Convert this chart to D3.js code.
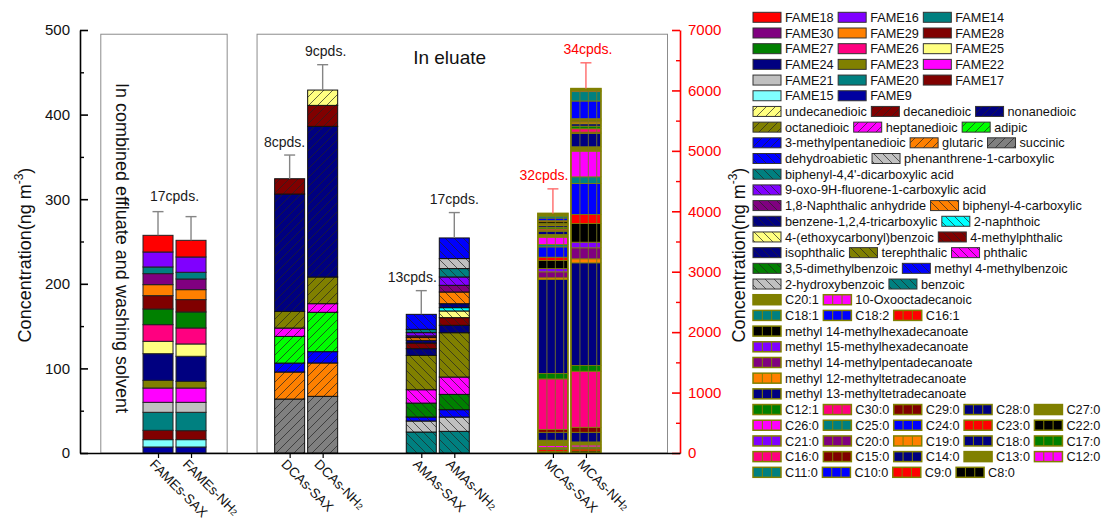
<!DOCTYPE html>
<html><head><meta charset="utf-8">
<script src="https://cdn.jsdelivr.net/npm/d3@7"></script>
<style>
body{margin:0;background:#fff}
svg{display:block}
text{font-family:"Liberation Sans",Arial,Helvetica,sans-serif}
</style>
</head><body>
<svg id="c" width="1101" height="521"></svg>
<script>
// ---------------- DATA ----------------
const groupLabels = ["FAMEs","DCAs","AMAs","MCAs"];
const methodLabels = ["SAX","NH2"];

// FAMEs (stack order bottom -> top), left axis
const fameNames  = ["FAME9","FAME15","FAME17","FAME20","FAME21","FAME22","FAME23","FAME24","FAME25","FAME26","FAME27","FAME28","FAME29","FAME30","FAME14","FAME16","FAME18"];
const fameColors = ["#0000A0","#80FFFF","#800000","#008080","#C0C0C0","#FF00FF","#808000","#000080","#FFFF80","#FF0080","#008000","#800000","#FF8000","#800080","#008080","#8000FF","#FF0000"];
const fameSAX    = [7.1,8.7,11.0,21.3,11.8,16.9,9.1,31.5,14.6,19.7,18.5,15.8,13.0,13.0,7.9,17.7,19.7];
const fameNH2    = [7.1,8.7,10.6,21.7,11.8,16.9,7.9,29.6,14.6,18.9,18.9,14.6,11.8,12.6,7.9,18.1,19.7];

// DCAs, left axis
const dcaNames  = ["succinic","glutaric","3-methylpentanedioic","adipic","heptanedioic","octanedioic","nonanedioic","decanedioic","undecanedioic"];
const dcaColors = ["#808080","#FF8000","#0000FF","#00FF00","#FF00FF","#808000","#000080","#800000","#FFFF80"];
const dcaSAX    = [63.8,31.9,10.6,31.5,9.9,19.7,138.7,18.1,0];
const dcaNH2    = [67.0,39.4,13.4,46.5,10.2,31.5,178.1,24.8,18.1];

// AMAs, left axis
const amaNames  = ["benzoic","2-hydroxybenzoic","methyl 4-methylbenzoic","3,5-dimethylbenzoic","phthalic","terephthalic","isophthalic","4-methylphthalic","4-(ethoxycarbonyl)benzoic","2-naphthoic","benzene-1,2,4-tricarboxylic","biphenyl-4-carboxylic","1,8-Naphthalic anhydride","9-oxo-9H-fluorene-1-carboxylic acid","biphenyl-4,4'-dicarboxylic acid","phenanthrene-1-carboxylic","dehydroabietic"];
const amaColors = ["#008080","#C0C0C0","#0000FF","#008000","#FF00FF","#808000","#000080","#800000","#FFFF80","#00FFFF","#000080","#FF8000","#800080","#8000FF","#008080","#C0C0C0","#0000FF"];
const amaSAX    = [24.8,13.0,4.7,16.5,15.8,40.6,7.9,6.7,0,0,3.2,3.2,2.0,3.9,3.9,0,17.7];
const amaNH2    = [25.6,16.9,8.7,18.1,20.5,52.4,8.7,9.1,7.9,3.9,4.7,13.8,7.9,9.9,9.9,11.8,24.4];

// MCAs, right axis
const mcaNames  = ["C8:0","C9:0","C10:0","C11:0","C12:0","C13:0","C14:0","C15:0","C16:0","C17:0","C18:0","C19:0","C20:0","C21:0","C22:0","C23:0","C24:0","C25:0","C26:0","C27:0","C28:0","C29:0","C30:0","C12:1","methyl 13-methyltetradecanoate","methyl 12-methyltetradecanoate","methyl 14-methylpentadecanoate","methyl 15-methylhexadecanoate","methyl 14-methylhexadecanoate","C16:1","C18:2","C18:1","10-Oxooctadecanoic","C20:1"];
const mcaColors = ["#000000","#FF0000","#0000FF","#008080","#FF00FF","#808000","#000080","#800000","#FF0080","#008000","#000080","#FF8000","#800080","#8000FF","#000000","#FF0000","#0000FF","#008080","#FF00FF","#808000","#000080","#800000","#FF0080","#008000","#000080","#FF8000","#800080","#8000FF","#000000","#FF0000","#0000FF","#008080","#FF00FF","#808000"];
const mcaSAX    = [28,28,17,17,33,88,132,44,839,88,1557,28,99,55,132,55,171,39,121,44,55,17,22,28,28,17,17,0,28,17,44,33,0,44];
const mcaNH2    = [33,33,17,17,33,50,160,83,927,94,1700,66,182,94,309,149,513,110,425,72,221,22,55,44,39,28,17,11,11,17,293,155,17,33];

// upper error bars (SAX, NH2)
const errFAME = [28,28];
const errDCA  = [28,30];
const errAMA  = [28,30];
const errMCA  = [406,427];

// compound count labels
const cpdsText  = ["17cpds.","8cpds.","9cpds.","13cpds.","17cpds.","32cpds.","34cpds."];
const cpdsGroup = [0,1,1,2,2,3,3];
const cpdsBar   = [-1,0,1,0,1,0,1];   // -1 = centred on group
const cpdsDx    = [0,-5,3,-9,0,-9,2];

// axis ticks
const leftTicks  = [0,100,200,300,400,500];
const rightTicks = [0,1000,2000,3000,4000,5000,6000,7000];

// legend rows
const legendRows = [
  ["FAME18","FAME16","FAME14"],["FAME30","FAME29","FAME28"],["FAME27","FAME26","FAME25"],
  ["FAME24","FAME23","FAME22"],["FAME21","FAME20","FAME17"],["FAME15","FAME9"],
  ["undecanedioic","decanedioic","nonanedioic"],["octanedioic","heptanedioic","adipic"],
  ["3-methylpentanedioic","glutaric","succinic"],
  ["dehydroabietic","phenanthrene-1-carboxylic"],["biphenyl-4,4'-dicarboxylic acid"],
  ["9-oxo-9H-fluorene-1-carboxylic acid"],["1,8-Naphthalic anhydride","biphenyl-4-carboxylic"],
  ["benzene-1,2,4-tricarboxylic","2-naphthoic"],["4-(ethoxycarbonyl)benzoic","4-methylphthalic"],
  ["isophthalic","terephthalic","phthalic"],["3,5-dimethylbenzoic","methyl 4-methylbenzoic"],
  ["2-hydroxybenzoic","benzoic"],
  ["C20:1","10-Oxooctadecanoic"],["C18:1","C18:2","C16:1"],
  ["methyl 14-methylhexadecanoate"],["methyl 15-methylhexadecanoate"],["methyl 14-methylpentadecanoate"],
  ["methyl 12-methyltetradecanoate"],["methyl 13-methyltetradecanoate"],
  ["C12:1","C30:0","C29:0","C28:0","C27:0"],["C26:0","C25:0","C24:0","C23:0","C22:0"],
  ["C21:0","C20:0","C19:0","C18:0","C17:0"],["C16:0","C15:0","C14:0","C13:0","C12:0"],
  ["C11:0","C10:0","C9:0","C8:0"]
];

// ---------------- CHART ----------------
const svg = d3.select("#c");
const defs = svg.append("defs");
const FONT = '"Liberation Sans",Arial,Helvetica,sans-serif';

const x  = d3.scaleLinear().domain([0.282,4.84]).range([80,680]);
const yL = d3.scaleLinear().domain([0,500]).range([453,30]);
const yR = d3.scaleLinear().domain([0,7000]).range([453,30]);
const barOff = [-0.1254, 0.1254];
const barW = 0.228;

const G = [
  {names:fameNames, colors:fameColors, vals:[fameSAX,fameNH2], err:errFAME, kind:"solid", y:yL},
  {names:dcaNames,  colors:dcaColors,  vals:[dcaSAX,dcaNH2],   err:errDCA,  kind:"fwd",   y:yL},
  {names:amaNames,  colors:amaColors,  vals:[amaSAX,amaNH2],   err:errAMA,  kind:"back",  y:yL},
  {names:mcaNames,  colors:mcaColors,  vals:[mcaSAX,mcaNH2],   err:errMCA,  kind:"vert",  y:yR}
];

const patCache = {};
function fillFor(kind,color){
  if(kind!=="fwd" && kind!=="back") return color;
  const id = kind + color.slice(1);
  if(!patCache[id]){
    patCache[id]=true;
    const s=9;
    const p = defs.append("pattern").attr("id",id).attr("patternUnits","userSpaceOnUse")
      .attr("width",s).attr("height",s);
    p.append("rect").attr("width",s).attr("height",s).attr("fill",color);
    const d = kind==="fwd"
      ? `M0,${s} L${s},0 M-3,3 L3,-3 M${s-3},${s+3} L${s+3},${s-3}`
      : `M0,0 L${s},${s} M-3,${s-3} L3,${s+3} M${s-3},-3 L${s+3},3`;
    p.append("path").attr("d",d).attr("stroke","#222").attr("stroke-width",0.7).attr("fill","none");
  }
  return `url(#${id})`;
}
const strokeFor = k => k==="vert" ? "#808000" : (k==="solid" ? "#222" : "#111");

// annotation boxes
const boxes = [[0.44,1.40],[1.627,4.745]];
svg.append("g").selectAll("rect").data(boxes).join("rect")
  .attr("x",d=>x(d[0])).attr("width",d=>x(d[1])-x(d[0]))
  .attr("y",yL(495)).attr("height",yL(0)-yL(495))
  .attr("fill","none").attr("stroke","#8c8c8c").attr("stroke-width",1);

// bars
const barsG = svg.append("g");
const capYs = [];
G.forEach((g,gi)=>{
  const keys = d3.range(g.names.length);
  const stacked = d3.stack().keys(keys).value((d,k)=>d[k])(g.vals);
  capYs[gi]=[];
  [0,1].forEach(mi=>{
    const cx = x(gi+1+barOff[mi]);
    const w = x(barW)-x(0);
    const total = d3.sum(g.vals[mi]);
    stacked.forEach((layer,k)=>{
      const [v0,v1] = layer[mi];
      if(v1-v0<=0) return;
      barsG.append("rect")
        .attr("x",cx-w/2).attr("width",w)
        .attr("y",g.y(v1)).attr("height",g.y(v0)-g.y(v1))
        .attr("fill",fillFor(g.kind,g.colors[k]))
        .attr("stroke",strokeFor(g.kind))
        .attr("stroke-width",g.kind==="vert"?0.8:1);
    });
    if(g.kind==="vert"){
      [0.3,0.58,0.86].forEach(f=>{
        barsG.append("line").attr("x1",cx-w/2+f*w).attr("x2",cx-w/2+f*w)
          .attr("y1",g.y(total)).attr("y2",g.y(0))
          .attr("stroke","#7a7a20").attr("stroke-width",1).attr("opacity",0.85);
      });
      barsG.append("rect").attr("x",cx-w/2).attr("width",w)
        .attr("y",g.y(total)).attr("height",g.y(0)-g.y(total))
        .attr("fill","none").attr("stroke","#808000").attr("stroke-width",1.6);
    }
    // error bar
    const ec = g.kind==="vert" ? "#FF6a6a" : "#858585";
    const yTop = g.y(total+g.err[mi]);
    capYs[gi][mi]=yTop;
    barsG.append("line").attr("x1",cx).attr("x2",cx).attr("y1",g.y(total)).attr("y2",yTop)
      .attr("stroke",ec).attr("stroke-width",1.4);
    barsG.append("line").attr("x1",cx-5.5).attr("x2",cx+5.5).attr("y1",yTop).attr("y2",yTop)
      .attr("stroke",ec).attr("stroke-width",1.4);
  });
});

// cpds labels
cpdsText.forEach((t,i)=>{
  const gi = cpdsGroup[i], b = cpdsBar[i];
  let cx, yb;
  if(b<0){ cx = x(gi+1); yb = Math.min(capYs[gi][0],capYs[gi][1]) - 11; }
  else { cx = x(gi+1+barOff[b]); yb = capYs[gi][b] - 8.5; }
  svg.append("text").attr("x",cx+cpdsDx[i]).attr("y",yb).attr("text-anchor","middle")
    .attr("font-size",14).attr("fill", gi===3 ? "#FF0000" : "#1a1a1a").text(t);
});

// axes
const axL = svg.append("g").attr("transform","translate(80,0)")
  .call(d3.axisLeft(yL).tickValues(leftTicks).tickSize(-8).tickSizeOuter(0).tickPadding(10).tickFormat(d3.format("d")));
axL.attr("font-family",FONT).attr("font-size",15);
axL.select(".domain").attr("stroke-width",1.6);
axL.selectAll(".tick line").attr("stroke-width",1.6);
axL.selectAll(".tick text").attr("fill","#111");
const axLm = svg.append("g").attr("transform","translate(80,0)")
  .call(d3.axisLeft(yL).tickValues(d3.range(50,500,100)).tickSize(-4).tickFormat(""));
axLm.select(".domain").remove();
axLm.selectAll(".tick line").attr("stroke-width",1.4);

const axR = svg.append("g").attr("transform","translate(680,0)").attr("color","#FF0000")
  .call(d3.axisRight(yR).tickValues(rightTicks).tickSize(-8).tickSizeOuter(0).tickPadding(8).tickFormat(d3.format("d")));
axR.attr("font-family",FONT).attr("font-size",15);
axR.select(".domain").attr("stroke-width",1.6);
axR.selectAll(".tick line").attr("stroke-width",1.6);
const axRm = svg.append("g").attr("transform","translate(680,0)").attr("color","#FF0000")
  .call(d3.axisRight(yR).tickValues(d3.range(500,7000,1000)).tickSize(-4).tickFormat(""));
axRm.select(".domain").remove();
axRm.selectAll(".tick line").attr("stroke-width",1.4);

// bottom axis
const barCenters = [];
G.forEach((g,gi)=>[0,1].forEach(mi=>barCenters.push({gi,mi,pos:gi+1+barOff[mi]})));
const axB = svg.append("g").attr("transform",`translate(0,${yL(0)})`)
  .call(d3.axisBottom(x).tickValues(barCenters.map(d=>d.pos)).tickSize(5).tickSizeOuter(0).tickFormat(""));
axB.select(".domain").attr("stroke-width",1.6);
axB.selectAll(".tick line").attr("stroke-width",1.2);

const xl = svg.append("g");
barCenters.forEach(d=>{
  const cx = x(d.pos)-2, cy = 458;
  const t = xl.append("text").attr("transform",`translate(${cx},${cy}) rotate(45)`)
    .attr("dominant-baseline","hanging").attr("font-size",13.5).attr("fill","#111");
  t.append("tspan").text(groupLabels[d.gi]+"-"+(d.mi===0?"SAX":"NH"));
  if(d.mi===1) t.append("tspan").attr("font-size",9).attr("dy",4).text("2");
});

// axis titles
function concTitle(tx,ty){
  const t = svg.append("text").attr("transform",`translate(${tx},${ty}) rotate(-90)`)
    .attr("text-anchor","middle").attr("font-size",18).attr("fill","#111");
  t.append("tspan").text("Concentration(ng m");
  t.append("tspan").attr("font-size",12).attr("dy",-8).text("-3");
  t.append("tspan").attr("dy",8).text(")");
}
concTitle(31,255);
concTitle(745,255);

// annotation texts
svg.append("text").attr("transform",`translate(${x(0.558)},248) rotate(90)`)
  .attr("text-anchor","middle").attr("font-size",18).attr("fill","#111")
  .text("In combined effluate and washing solvent");
svg.append("text").attr("x",x(3.09)).attr("y",64).attr("text-anchor","middle")
  .attr("font-size",19).attr("fill","#111").text("In eluate");

// legend
const lookup = {};
G.forEach(g=>g.names.forEach((n,i)=>{ lookup[n]={kind:g.kind,color:g.colors[i]}; }));
const lg = svg.append("g");
const ly0 = 17.3, ldy = 15.69;
legendRows.forEach((row,ri)=>{
  const cy = ly0 + ri*ldy;
  let cx = 753;
  row.forEach(name=>{
    const info = lookup[name];
    lg.append("rect").attr("x",cx).attr("y",cy-5).attr("width",28).attr("height",10)
      .attr("fill",fillFor(info.kind,info.color))
      .attr("stroke",info.kind==="vert"?"#808000":"#333")
      .attr("stroke-width",info.kind==="vert"?1.5:1);
    if(info.kind==="vert"){
      [1/3,2/3].forEach(f=>lg.append("line").attr("x1",cx+28*f).attr("x2",cx+28*f)
        .attr("y1",cy-5).attr("y2",cy+5).attr("stroke","#808000").attr("stroke-width",1));
    }
    const t = lg.append("text").attr("x",cx+32).attr("y",cy+4.6).attr("font-size",12.7)
      .attr("fill","#111").text(name);
    cx += 32 + t.node().getComputedTextLength() + 4.5;
  });
});
</script>
</body></html>
